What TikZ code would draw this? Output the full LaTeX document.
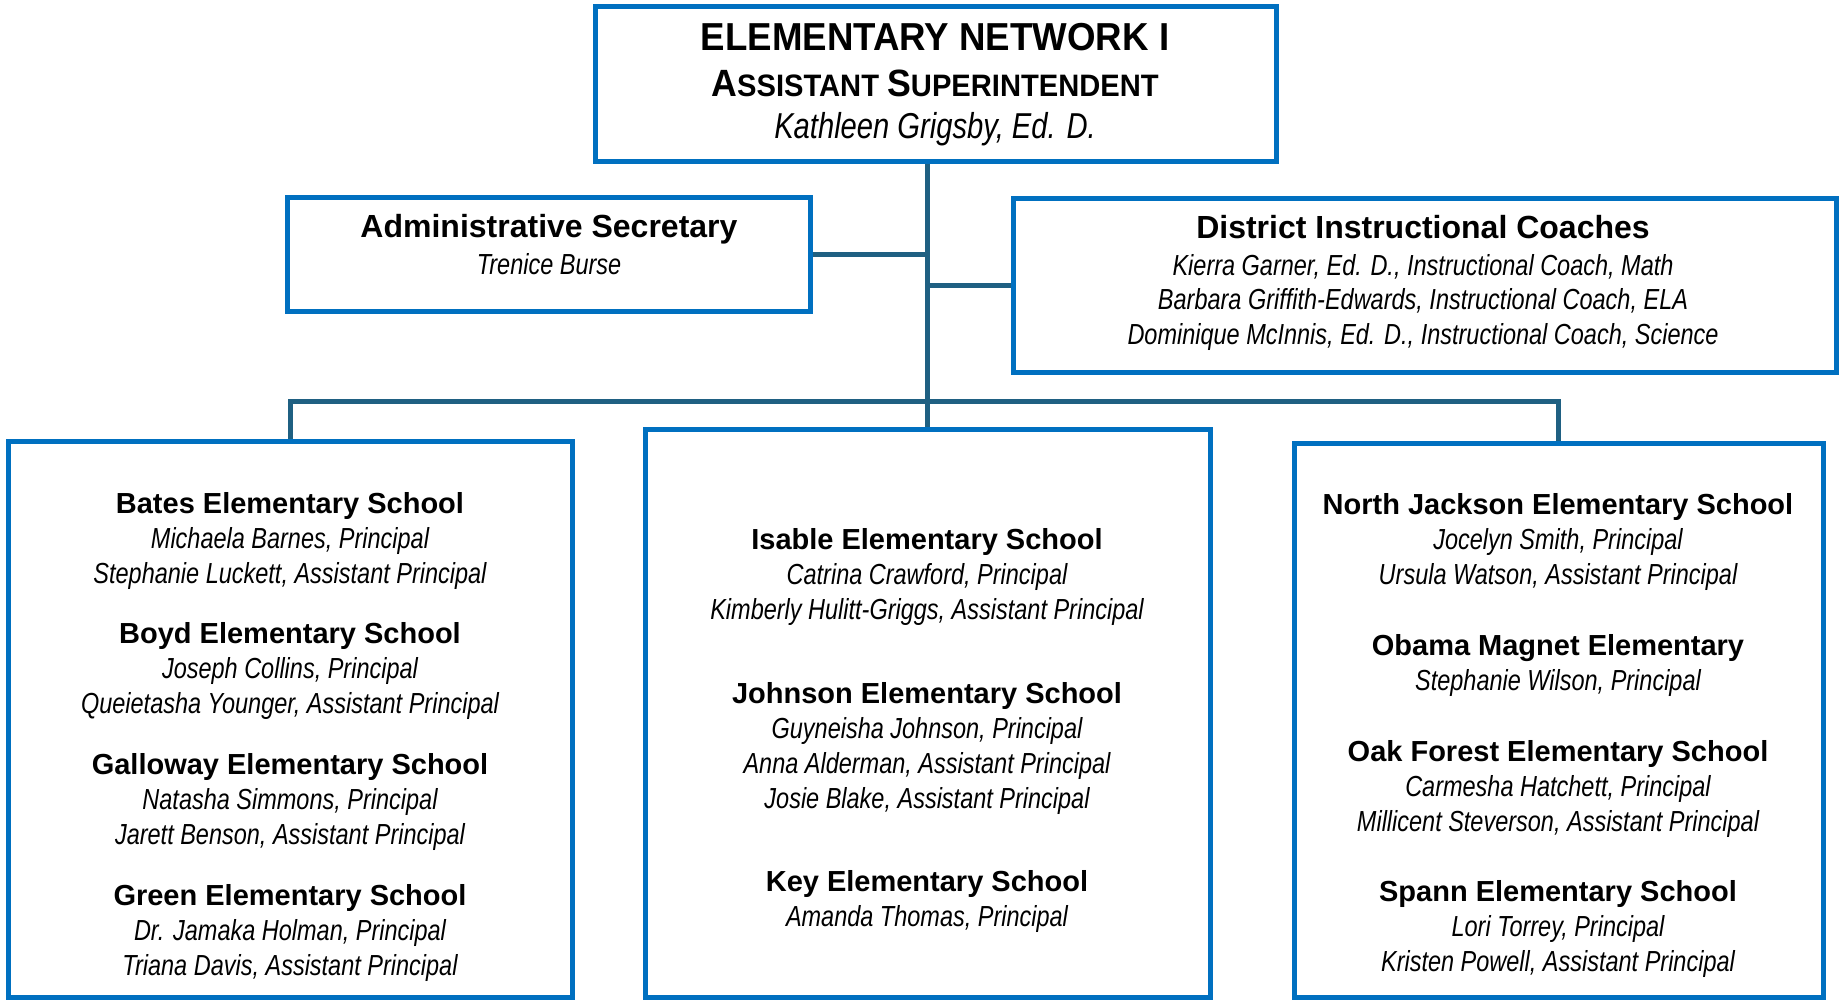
\documentclass[tikz,border=0pt]{standalone}
\usepackage{fontspec}
\setmainfont{Liberation Sans}
\newfontfamily\narrowfont[FakeStretch=0.81]{Liberation Sans}
\newfontfamily\headfont[FakeStretch=0.94]{Liberation Sans}
\usepackage{xcolor}
\usetikzlibrary{positioning,calc}
\definecolor{boxblue}{HTML}{0070C0}
\definecolor{linkteal}{HTML}{1F6082}
\newcommand{\who}[1]{{\narrowfont\itshape #1}}
\newcommand{\capsc}[2]{{\fontsize{38}{44}\selectfont #1}{\fontsize{31}{44}\selectfont #2}}

\begin{document}
\begin{tikzpicture}[x=1pt, y=-1pt,
    box/.style={draw=boxblue, line width=5pt, inner sep=0pt, fill=white},
    link/.style={draw=linkteal, line width=5pt},
    txt/.style={align=center, inner sep=0pt, font=\fontsize{29}{35}\selectfont}]
            \useasboundingbox (0,0) rectangle (1839,1001);

            % boxes
            \node (top)[box, minimum width=681pt, minimum height=155pt] at (935.5,83.5) {};
            \node (admin)[box, minimum width=523pt, minimum height=114pt] at (548.5,254) {};
            \node (coach)[box, minimum width=823pt, minimum height=174pt] at (1424.5,285) {};
            \node (westgrp)[box, minimum width=564pt, minimum height=556pt] at (290,719) {};
            \node (midgrp)[box, minimum width=565pt, minimum height=568pt] at (927.5,713) {};
            \node (eastgrp)[box, minimum width=529pt, minimum height=554pt] at (1558.5,720) {};

            % connectors
            \coordinate (bus) at (929,401);
            \draw[link] (top.south -| midgrp.north) -- (midgrp.north);
            \draw[link] (admin.east) -- (admin.east -| midgrp.north);
            \draw[link] (coach.west) -- (coach.west -| midgrp.north);
            \draw[link] (westgrp.north) |- (bus) -| (eastgrp.north);

            % head
            \node (net)[anchor=base, font=\headfont\bfseries\fontsize{39}{44}\selectfont] at (935,50) {ELEMENTARY NETWORK I};
            \node (role)[anchor=base, font=\headfont\bfseries\fontsize{31}{44}\selectfont] at (935,96) {\capsc{A}{SSISTANT} \capsc{S}{UPERINTENDENT}};
            \node (chief)[anchor=base, font=\narrowfont\itshape\fontsize{36}{44}\selectfont] at (935,138) {Kathleen Grigsby, Ed. D.};

            \node (sec)[txt, font=\fontsize{29}{37}\selectfont] at (549,245) {\textbf{\fontsize{32}{37}\selectfont Administrative Secretary}\\ \who{Trenice Burse}};
            \node (coaches)[txt, font=\fontsize{29}{34.5}\selectfont] at (1423,283) {\textbf{\fontsize{32}{34.5}\selectfont District Instructional Coaches}\\[2pt]
                \who{Kierra Garner, Ed. D., Instructional Coach, Math}\\
                \who{Barbara Griffith-Edwards, Instructional Coach, ELA}\\
                \who{Dominique McInnis, Ed. D., Instructional Coach, Science}};

            % west schools
            \node (bates)[txt] at (290,541) {\textbf{Bates Elementary School}\\ \who{Michaela Barnes, Principal}\\ \who{Stephanie Luckett, Assistant Principal}};
            \node (boyd)[txt] at (290,671) {\textbf{Boyd Elementary School}\\ \who{Joseph Collins, Principal}\\ \who{Queietasha Younger, Assistant Principal}};
            \node (galloway)[txt] at (290,802) {\textbf{Galloway Elementary School}\\ \who{Natasha Simmons, Principal}\\ \who{Jarett Benson, Assistant Principal}};
            \node (green)[txt] at (290,933) {\textbf{Green Elementary School}\\ \who{Dr. Jamaka Holman, Principal}\\ \who{Triana Davis, Assistant Principal}};

            % middle schools
            \node (isable)[txt] at (927,577) {\textbf{Isable Elementary School}\\ \who{Catrina Crawford, Principal}\\ \who{Kimberly Hulitt-Griggs, Assistant Principal}};
            \node (johnson)[txt] at (927,748) {\textbf{Johnson Elementary School}\\ \who{Guyneisha Johnson, Principal}\\ \who{Anna Alderman, Assistant Principal}\\ \who{Josie Blake, Assistant Principal}};
            \node (key)[txt] at (927,901) {\textbf{Key Elementary School}\\ \who{Amanda Thomas, Principal}};

            % east schools
            \node (northjackson)[txt] at (1558,542) {\textbf{North Jackson Elementary School}\\ \who{Jocelyn Smith, Principal}\\ \who{Ursula Watson, Assistant Principal}};
            \node (obama)[txt] at (1558,665) {\textbf{Obama Magnet Elementary}\\ \who{Stephanie Wilson, Principal}};
            \node (oakforest)[txt] at (1558,789) {\textbf{Oak Forest Elementary School}\\ \who{Carmesha Hatchett, Principal}\\ \who{Millicent Steverson, Assistant Principal}};
            \node (spann)[txt] at (1558,929) {\textbf{Spann Elementary School}\\ \who{Lori Torrey, Principal}\\ \who{Kristen Powell, Assistant Principal}};
    \end{tikzpicture}
\end{document}
